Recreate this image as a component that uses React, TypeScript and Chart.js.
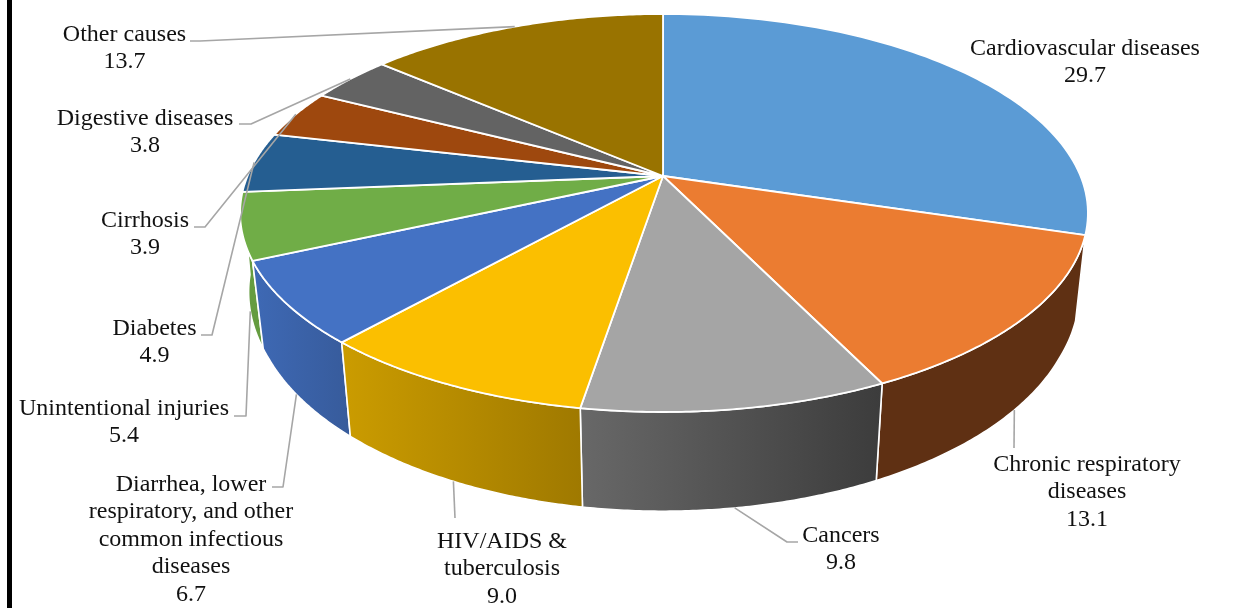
import React, { useEffect, useRef } from "react";
import { Chart, registerables } from "chart.js";

Chart.register(...registerables);

const categories: string[][] = [
  ["Cardiovascular diseases"],
  ["Chronic respiratory", "diseases"],
  ["Cancers"],
  ["HIV/AIDS &", "tuberculosis"],
  ["Diarrhea, lower", "respiratory, and other", "common infectious", "diseases"],
  ["Unintentional injuries"],
  ["Diabetes"],
  ["Cirrhosis"],
  ["Digestive diseases"],
  ["Other causes"],
];
const values = [29.7, 13.1, 9.8, 9.0, 6.7, 5.4, 4.9, 3.9, 3.8, 13.7];
const topColors = ["#5B9BD5", "#EB7C31", "#A5A5A5", "#FBBF00", "#4472C4", "#70AD47", "#255E91", "#9E480E", "#636363", "#997300"];
const wallColors: (string[] | null)[] = [
  null,
  ["#5F3013", "#5F3013"],
  ["#686868", "#3C3C3C"],
  ["#CB9C00", "#9F7900"],
  ["#3E69B5", "#375B9B"],
  ["#659C40", "#659C40"],
  null, null, null, null,
];

// Layout of the labels, not data: centre x, first baseline, line step
const labelPos = [
  [1085, 55], [1087, 471], [841, 542], [502, 548], [191, 491],
  [124, 415], [154.5, 335], [145, 227], [145, 125], [124.5, 41],
];
const LINE = 27.4;
// Leader elbows from the label side
const leaderElbows: (number[][] | null)[] = [
  null,
  [[1014, 448]],
  [[798, 542], [787, 542]],
  [[455, 518]],
  [[272, 487], [283, 487]],
  [[234, 416], [246, 416]],
  [[201, 335], [212, 335]],
  [[194, 227], [205, 227]],
  [[239, 124], [251, 124]],
  [[190, 41], [200, 41]],
];

// Perspective projection of the disc on to the page
const CX = 663, CY = 176, AX_R = 417.5, AX_L = 415.5, BY = 192.1, K = 0.186;
const top = (a: number) => {
  const x = Math.cos(a), y = Math.sin(a), w = 1 - K * y;
  return [CX + ((x < 0 ? AX_L : AX_R) * x) / w, CY + (BY * y) / w];
};
const bottom = (a: number) => {
  const [x, y] = top(a);
  const s = 0.973 + Math.max(0, 0.45 - Math.sin(a)) * 0.025;
  return [CX + s * (x - CX), 257.5 + 1.075 * (y - CY)];
};

const pie3d = {
  id: "pie3d",
  beforeDatasetsDraw(chart: any) {
    const ctx: CanvasRenderingContext2D = chart.ctx;
    const arcs = chart.getDatasetMeta(0).data;
    const sample = (arc: any, fn: (a: number) => number[]) => {
      const pts: number[][] = [];
      const N = 80;
      for (let i = 0; i <= N; i++) pts.push(fn(arc.startAngle + ((arc.endAngle - arc.startAngle) * i) / N));
      return pts;
    };
    const trace = (pts: number[][], first = false) => {
      pts.forEach((p, i) => (i === 0 && first ? ctx.moveTo(p[0], p[1]) : ctx.lineTo(p[0], p[1])));
    };

    ctx.save();
    ctx.fillStyle = "#000";
    ctx.fillRect(7, 0, 5, chart.height);
    ctx.lineJoin = "round";

    // side walls, back to front
    [5, 1, 4, 2, 3].forEach((i) => {
      const colors = wallColors[i]!;
      const t = sample(arcs[i], top);
      const b = sample(arcs[i], bottom).reverse();
      const xs = [...t, ...b].map((p) => p[0]);
      const g = ctx.createLinearGradient(Math.min(...xs), 0, Math.max(...xs), 0);
      g.addColorStop(0, colors[0]);
      g.addColorStop(1, colors[1]);
      ctx.beginPath();
      trace(t, true);
      trace(b);
      ctx.closePath();
      ctx.fillStyle = g;
      ctx.fill();
      ctx.strokeStyle = "#fff";
      ctx.lineWidth = 1.6;
      ctx.stroke();
    });

    // top faces
    arcs.forEach((arc: any, i: number) => {
      ctx.beginPath();
      ctx.moveTo(CX, CY);
      trace(sample(arc, top));
      ctx.closePath();
      ctx.fillStyle = topColors[i];
      ctx.fill();
      ctx.strokeStyle = "#fff";
      ctx.lineWidth = 1.8;
      ctx.stroke();
    });

    // leaders
    ctx.strokeStyle = "#A6A6A6";
    ctx.lineWidth = 1.6;
    arcs.forEach((arc: any, i: number) => {
      const elbows = leaderElbows[i];
      if (!elbows) return;
      const mid = (arc.startAngle + arc.endAngle) / 2;
      const end = wallColors[i] ? bottom(mid) : top(mid);
      ctx.beginPath();
      trace(elbows, true);
      ctx.lineTo(end[0], end[1]);
      ctx.stroke();
    });

    // labels
    ctx.fillStyle = "#111";
    ctx.font = '24px "Liberation Serif"';
    ctx.textAlign = "center";
    ctx.textBaseline = "alphabetic";
    categories.forEach((lines, i) => {
      const [x, y] = labelPos[i];
      lines.forEach((l, j) => ctx.fillText(l, x, y + j * LINE));
      ctx.fillText(values[i].toFixed(1), x, y + lines.length * LINE);
    });
    ctx.restore();
    return false;
  },
};

export default function App() {
  const ref = useRef<HTMLCanvasElement>(null);
  useEffect(() => {
    const chart = new Chart(ref.current!, {
      type: "pie",
      data: {
        labels: categories.map((l) => l.join(" ")),
        datasets: [{ data: values, backgroundColor: topColors }],
      },
      options: {
        responsive: false,
        animation: false,
        plugins: { legend: { display: false }, tooltip: { enabled: false } },
      },
      plugins: [pie3d],
    } as any);
    return () => chart.destroy();
  }, []);
  return (
    <canvas
      ref={ref}
      width={1246}
      height={608}
      style={{ position: "fixed", left: 0, top: 0, display: "block", background: "#fff" }}
    />
  );
}
